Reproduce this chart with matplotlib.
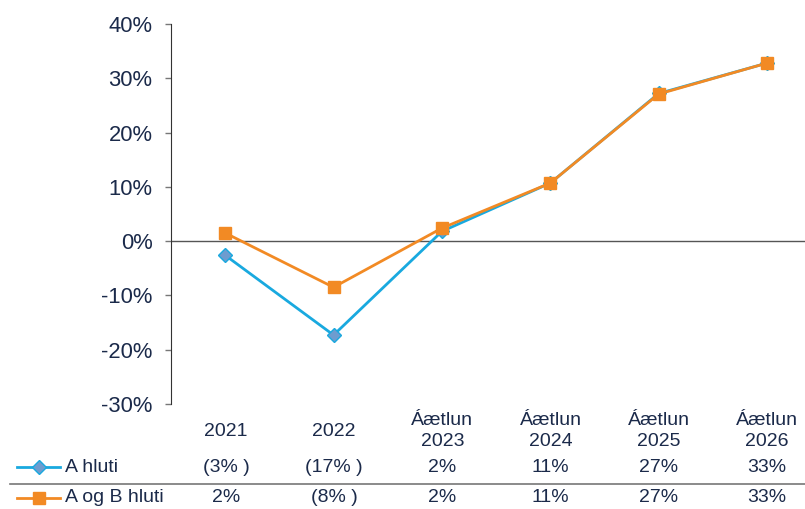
import matplotlib
matplotlib.use('Agg')
from matplotlib import pyplot as plt
from matplotlib.lines import Line2D
from matplotlib.ticker import FuncFormatter

plt.rcParams['font.family'] = ['Liberation Sans', 'DejaVu Sans']

years = ['2021', '2022', 'Áætlun\n2023', 'Áætlun\n2024', 'Áætlun\n2025', 'Áætlun\n2026']
a_hluti = [-2.6, -17.3, 1.8, 10.7, 27.2, 32.8]
a_og_b = [1.5, -8.5, 2.4, 10.7, 27.1, 32.8]
a_labels = ['(3% )', '(17% )', '2%', '11%', '27%', '33%']
ab_labels = ['2%', '(8% )', '2%', '11%', '27%', '33%']

txt = '#1b2a4a'
blue = '#19a9df'
orange = '#f28a24'
fs = 14

fig = plt.figure(figsize=(8.05, 5.09), dpi=100)
W, H = 805, 509
ax = fig.add_axes([171 / W, (H - 404) / H, (W - 171) / W, 380 / H])

x = list(range(len(years)))
ax.plot(x, a_hluti, '-', color=blue, lw=2, marker='D', ms=7,
        mfc='#6e9ccf', mec=blue, mew=1, zorder=3)
ax.plot(x, a_og_b, '-', color=orange, lw=2, marker='s', ms=9,
        mfc=orange, mec=orange, zorder=4)

ax.set_xlim(-0.5, 5.35)
ax.set_ylim(-30, 40)
ax.set_yticks(range(-30, 41, 10))
ax.yaxis.set_major_formatter(FuncFormatter(lambda v, p: f'{v:.0f}%'))
ax.tick_params(axis='y', labelsize=15.8, colors='#777777', labelcolor=txt,
               length=4.3, width=1, pad=9)
ax.set_xticks([])
ax.axhline(0, color='#555555', lw=1, zorder=1)
for s in ['top', 'right', 'bottom']:
    ax.spines[s].set_visible(False)
ax.spines['left'].set_color('#333333')

def xfig(i):
    return (226 + 108.2 * i) / W

def yfig(py):
    return (H - py) / H

for i, lab in enumerate(years):
    fig.text(xfig(i), yfig(431), lab, ha='center', va='center',
             fontsize=fs, color=txt, linespacing=1.25)
    fig.text(xfig(i), yfig(468), a_labels[i], ha='center', va='center',
             fontsize=fs, color=txt)
    fig.text(xfig(i), yfig(498), ab_labels[i], ha='center', va='center',
             fontsize=fs, color=txt)

fig.text(65 / W, yfig(468), 'A hluti', ha='left', va='center', fontsize=fs, color=txt)
fig.text(65 / W, yfig(498), 'A og B hluti', ha='left', va='center', fontsize=fs, color=txt)

fig.add_artist(Line2D([17 / W, 60 / W], [yfig(467)] * 2, color=blue, lw=2))
fig.add_artist(Line2D([39 / W], [yfig(467)], marker='D', ms=7, mfc='#6e9ccf', mec=blue))
fig.add_artist(Line2D([17 / W, 60 / W], [yfig(498)] * 2, color=orange, lw=2))
fig.add_artist(Line2D([39 / W], [yfig(498)], marker='s', ms=9, mfc=orange, mec=orange))
fig.add_artist(Line2D([10 / W, 1.0], [yfig(484)] * 2, color='#777777', lw=1.2))

fig.savefig('out.png', dpi=100)
